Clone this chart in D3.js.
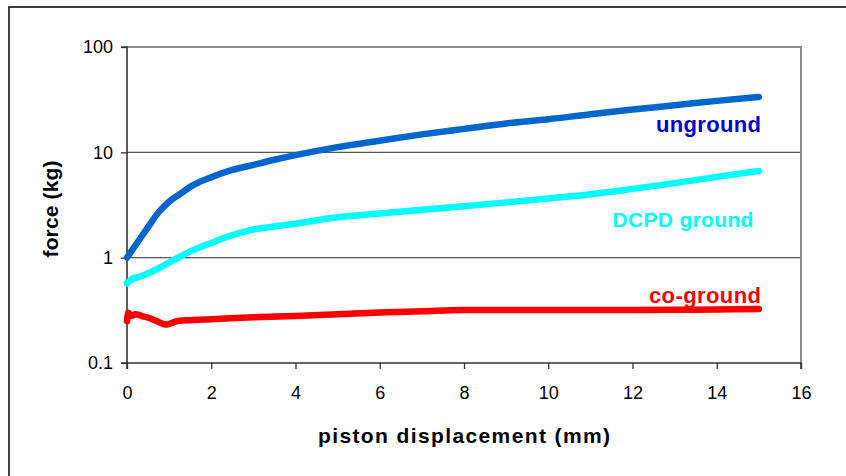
<!DOCTYPE html>
<html><head><meta charset="utf-8">
<script src="https://cdn.jsdelivr.net/npm/d3@7"></script>
<style>
html,body{margin:0;padding:0;background:#fff;}
svg{display:block;font-family:Arial,"Liberation Sans",sans-serif;}
</style></head>
<body>
<svg id="chart" width="846" height="476"></svg>
<script>
// ---- data ----
const ungroundX = [0,0.25,0.5,0.75,1.0,1.25,1.5,2.0,2.5,3.0,3.5,4,5,6,7,8,9,10,11,12,13,14,15];
const ungroundY = [1.0,1.4,1.95,2.7,3.4,4.0,4.7,5.8,6.8,7.6,8.5,9.4,11.2,12.9,14.8,16.7,18.8,20.6,23,25.5,28,30.8,33.6];
const dcpdX = [0,0.1,0.3,0.6,0.85,1.0,1.25,1.57,2.0,2.37,3.0,3.5,4,5,6,7,8,9,10,11,12,13,14,15];
const dcpdY = [0.57,0.62,0.66,0.74,0.83,0.9,1.02,1.18,1.38,1.57,1.85,1.98,2.1,2.42,2.62,2.85,3.08,3.35,3.65,4.0,4.5,5.1,5.85,6.65];
const coX = [0,0.03,0.1,0.2,0.3,0.4,0.5,0.6,0.75,0.9,1.0,1.2,1.5,2,3,4,5,6,7,8,9,10,11,12,13,14,15];
const coY = [0.25,0.30,0.28,0.29,0.285,0.275,0.27,0.26,0.245,0.232,0.235,0.25,0.255,0.26,0.272,0.28,0.29,0.302,0.31,0.318,0.318,0.318,0.318,0.318,0.32,0.322,0.325];
const seriesNames = ["unground","DCPD ground","co-ground"];
const xTicks = [0,2,4,6,8,10,12,14,16];
const yTicks = [0.1,1,10,100];
const xTitle = "piston displacement (mm)";
const yTitle = "force (kg)";

// ---- layout ----
const svg = d3.select("#chart");
const L = 127, R = 801, T = 47, B = 363;
const x = d3.scaleLinear().domain([0,16]).range([L,R]);
const y = d3.scaleLog().domain([0.1,100]).range([B,T]);

// outer frame
svg.append("rect").attr("x",9).attr("y",7).attr("width",900).attr("height",600)
  .attr("fill","none").attr("stroke","#111").attr("stroke-width",1.6);

// gridlines
svg.append("g").selectAll("line").data([1,10]).join("line")
  .attr("x1",L).attr("x2",R).attr("y1",d=>y(d)).attr("y2",d=>y(d))
  .attr("stroke","#555").attr("stroke-width",1.2);

// top & right plot border (gray)
svg.append("path").attr("d",`M${L},${T}H${R}V${B}`).attr("fill","none")
  .attr("stroke","#8c8c8c").attr("stroke-width",2);

// axes
const fmt = d => d===0.1 ? "0.1" : String(d);
const gx = svg.append("g").attr("transform",`translate(0,${B})`)
  .call(d3.axisBottom(x).tickValues(xTicks).tickSize(6).tickPadding(17).tickFormat(d=>d));
const gy = svg.append("g").attr("transform",`translate(${L},0)`)
  .call(d3.axisLeft(y).tickValues(yTicks).tickSize(6).tickPadding(8).tickFormat(fmt));
[gx,gy].forEach(g=>{
  g.select(".domain").attr("stroke","#333").attr("stroke-width",1.6);
  g.selectAll(".tick line").attr("stroke","#333").attr("stroke-width",1.3);
  g.selectAll("text").attr("font-size",18).attr("fill","#000")
   .attr("font-family",'Arial,"Liberation Sans",sans-serif');
});
gx.select(".domain").attr("d",`M${L},6V0H${R}V6`);
gy.select(".domain").attr("d",`M-6,${B}H0V${T}H-6`);

// series lines
const line = d3.line().x(d=>x(d[0])).y(d=>y(d[1])).curve(d3.curveMonotoneX);
const series = [
  {xs:ungroundX, ys:ungroundY, color:"#0066CC"},
  {xs:dcpdX, ys:dcpdY, color:"#00FFFF"},
  {xs:coX, ys:coY, color:"#FF0000"}
];
series.forEach(s=>{
  svg.append("path").datum(s.xs.map((v,i)=>[v,s.ys[i]]))
    .attr("d",line).attr("fill","none").attr("stroke",s.color)
    .attr("stroke-width",6.5).attr("stroke-linecap","round").attr("stroke-linejoin","round");
});

// series labels
const labelPos = [
  {name:seriesNames[0], x:15.05, v:15.6, color:"#0000DD", len:105, fs:22},
  {name:seriesNames[1], x:14.87, v:1.96, color:"#00FFFF", len:141, fs:21},
  {name:seriesNames[2], x:15.05, v:0.371, color:"#FF0000", len:112, fs:22}
];
labelPos.forEach(l=>{
  svg.append("text").attr("x",x(l.x)).attr("y",y(l.v))
    .attr("text-anchor","end").attr("font-size",l.fs).attr("font-weight","bold")
    .attr("fill",l.color).attr("textLength",l.len).attr("lengthAdjust","spacing")
    .text(l.name);
});

// axis titles
svg.append("text").attr("x",(L+R)/2).attr("y",443).attr("text-anchor","middle")
  .attr("font-size",21).attr("font-weight","bold").attr("textLength",292).attr("lengthAdjust","spacing")
  .text(xTitle);
svg.append("text").attr("transform","translate(58,209) rotate(-90)").attr("text-anchor","middle")
  .attr("font-size",21).attr("font-weight","bold").attr("textLength",97).attr("lengthAdjust","spacing")
  .text(yTitle);
</script>
</body></html>
